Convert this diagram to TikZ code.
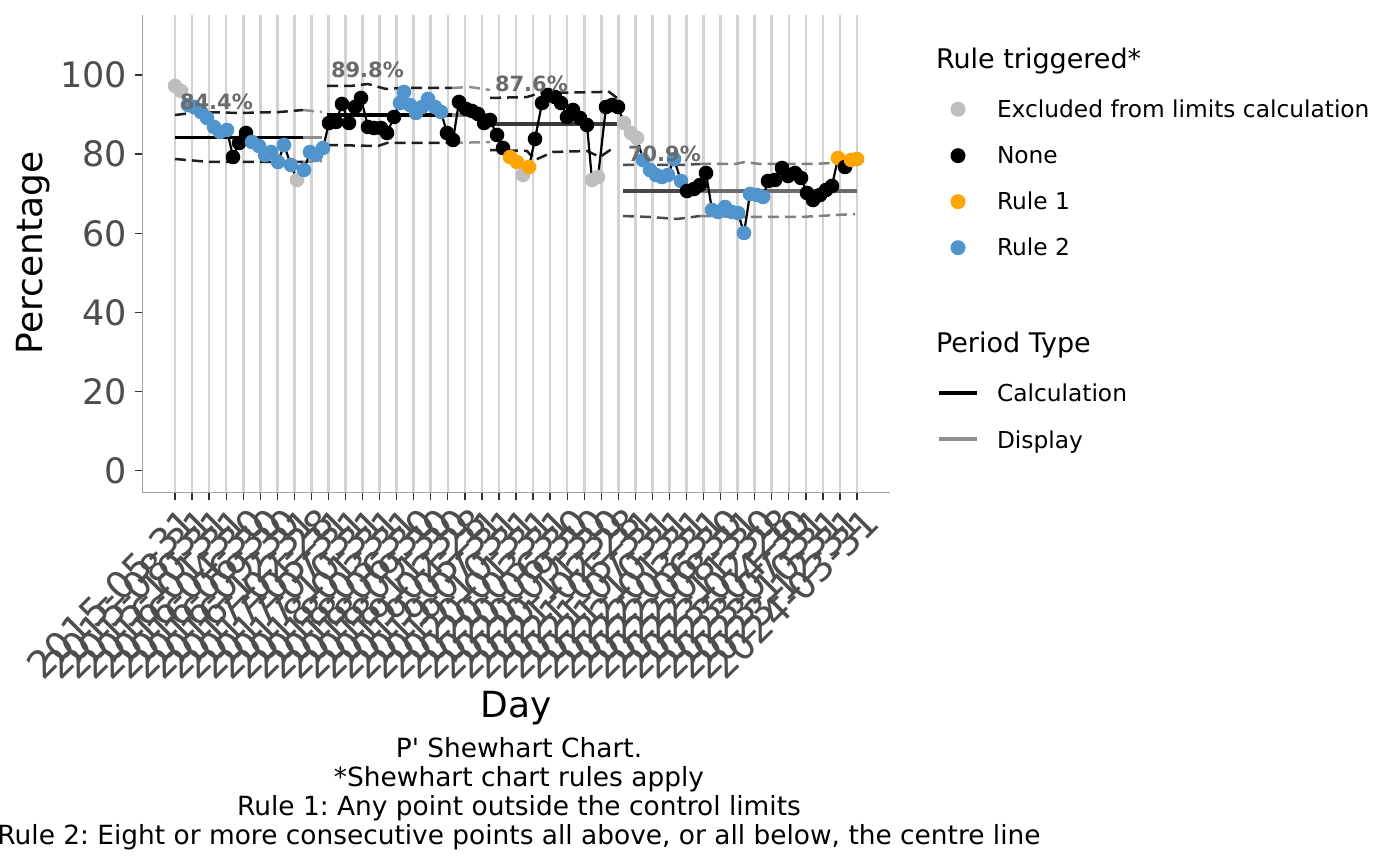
\documentclass[tikz,border=0pt]{standalone}
\usepackage{fontspec}
\setmainfont{DejaVu Sans}
\frenchspacing
\definecolor{ptgrey}{HTML}{BEBEBE}
\definecolor{ptorange}{HTML}{FFA500}
\definecolor{ptblue}{HTML}{4F94CD}
\definecolor{axisgrey}{HTML}{A3A3A3}
\definecolor{gridgrey}{HTML}{D3D3D3}
\definecolor{ticktext}{HTML}{4D4D4D}
\definecolor{labgrey}{HTML}{6B6B6B}
\definecolor{dispgrey}{HTML}{8E8E8E}
\def\datapts{175/86/ptgrey,181/91/ptgrey,188/105/ptblue,194/107/ptblue,201/112/ptblue,207/118/ptblue,214/127/ptblue,220/132/ptblue,227/130/ptblue,233/157/black,239/143/black,246/133/black,252/142/ptblue,259/146/ptblue,265/155/ptblue,271/152/ptblue,278/162/ptblue,284/145/ptblue,291/165/ptblue,297/180/ptgrey,304/170/ptblue,310/152/ptblue,316/155/ptblue,323/148/ptblue,329/123/black,336/122/black,342/104/black,349/123/black,355/107/black,361/98/black,368/127/black,374/128/black,381/128/black,387/133/black,394/117/black,400/103/ptblue,404/92/ptblue,410/105/ptblue,416/113/ptblue,422/107/ptblue,428/99/ptblue,435/107/ptblue,441/112/ptblue,447/133/black,453/140/black,459/102/black,466/109/black,472/111/black,478/114/black,484/123/black,490/120/black,497/135/black,503/148/black,510/157/ptorange,517/162/ptorange,523/175/ptgrey,529/167/ptorange,535/139/black,542/103/black,548/95/black,555/97/black,561/103/black,567/117/black,573/110/black,580/118/black,587/125/black,592/180/ptgrey,598/177/ptgrey,606/107/black,612/105/black,618/107/black,624/123/ptgrey,631/133/ptgrey,637/138/ptgrey,643/160/ptblue,650/170/ptblue,656/175/ptblue,662/177/ptblue,668/175/ptblue,674/159/ptblue,681/181/ptblue,687/191/black,694/189/black,700/185/black,706/173/black,712/210/ptblue,718/212/ptblue,725/207/ptblue,732/212/ptblue,738/213/ptblue,744/233/ptblue,750/194/ptblue,757/195/ptblue,763/197/ptblue,768/181/black,775/180/black,782/168/black,788/176/black,795/173/black,801/178/black,807/193/black,813/200/black,820/195/black,826/190/black,832/186/black,838/158/ptorange,845/167/black,851/160/ptorange,857/159/ptorange}
\def\datelist{2015-05-31,2015-08-31,2015-10-31,2016-01-31,2016-04-30,2016-06-30,2016-09-30,2016-12-31,2017-02-28,2017-05-31,2017-07-31,2017-10-31,2018-01-31,2018-03-31,2018-06-30,2018-09-30,2018-11-30,2019-02-28,2019-05-31,2019-07-31,2019-10-31,2020-01-31,2020-03-31,2020-06-30,2020-09-30,2020-11-30,2021-02-28,2021-05-31,2021-07-31,2021-10-31,2022-01-31,2022-03-31,2022-06-30,2022-08-31,2022-11-30,2023-02-28,2023-04-30,2023-07-31,2023-10-31,2023-12-31,2024-03-31}
\begin{document}
\begin{tikzpicture}[x=1pt,y=-1pt,
  every node/.style={inner sep=0pt, outer sep=0pt},
  gridln/.style={draw=gridgrey, line width=2.6pt},
  axisln/.style={draw=axisgrey, line width=1.6pt},
  tickmk/.style={draw=black!80, line width=1.3pt},
  ticklab/.style={text=ticktext, font=\fontsize{35}{40}\selectfont},
  xticklab/.style={text=ticktext, font=\fontsize{38}{44}\selectfont},
  axtitle/.style={font=\fontsize{36}{42}\selectfont},
  calcc/.style={draw=black, line width=3.8pt},
  calccb/.style={draw=black!78, line width=3.8pt},
  dispc/.style={draw=dispgrey, line width=3.8pt},
  calcl/.style={draw=black!88, line width=2.5pt, dash pattern=on 11pt off 6pt},
  displ/.style={draw=dispgrey, line width=2.5pt, dash pattern=on 11pt off 6pt},
  dataline/.style={draw=black, line width=2.2pt, line cap=round},
  pctlab/.style={text=labgrey, font=\fontsize{21}{24}\selectfont\bfseries, anchor=base west},
  legtitle/.style={font=\fontsize{27}{32}\selectfont, anchor=base west},
  leglab/.style={font=\fontsize{23.3}{28}\selectfont, anchor=base west},
  caplab/.style={font=\fontsize{26.4}{30}\selectfont, anchor=base},
]
\useasboundingbox[fill=white] (0,0) rectangle (1400,866);
% grid
\foreach \k in {0,...,40} \draw[gridln] ({175+17.05*\k},15) -- ({175+17.05*\k},492);
% axes
\draw[axisln] (142.5,15) -- (142.5,492.5) -- (890,492.5);
\foreach \v in {0,20,...,100} {
  \draw[tickmk] (135,{470.7-3.957*\v}) -- (142,{470.7-3.957*\v});
  \node[ticklab, anchor=east] (yl\v) at (127,{470.7-3.957*\v}) {\v};
}
\foreach [count=\k from 0] \d in \datelist {
  \draw[tickmk] ({175+17.05*\k},493) -- ({175+17.05*\k},500);
  \node[xticklab, rotate=45, anchor=north east] (xl\k) at ({180+17.05*\k},505) {\d};
}
\node[axtitle, anchor=base] (xtitle) at (516,717) {Day};
\node[axtitle, rotate=90, anchor=base] (ytitle) at (42,253) {Percentage};
% period 1
\draw[calcc] (175,137.5) -- (303,137.5);
\draw[dispc] (303,137.5) -- (322,137.5);
\draw[calcl] (175,115) -- (200,112) -- (240,113) -- (280,112) -- (303,110);
\draw[displ] (303,110) -- (322,112);
\draw[calcl] (175,159) -- (210,162) -- (260,162) -- (303,162);
\draw[displ] (303,162) -- (322,161);
% period 2
\draw[calcc] (327,115.4) -- (452,115.4);
\draw[dispc] (452,115.4) -- (490,115.4);
\draw[calcl] (327,86) -- (350,86) -- (368,84) -- (386,89) -- (400,88) -- (452,88);
\draw[displ] (452,88) -- (470,87) -- (490,90);
\draw[calcl] (327,145) -- (378,146) -- (387,143) -- (452,143);
\draw[displ] (452,143) -- (490,142);
% period 3
\draw[calccb] (490,124) -- (622,124);
\draw[calcl] (490,98) -- (527,97) -- (540,93) -- (600,92) -- (608,91) -- (617,98);
\draw[calcl] (490,150) -- (527,151) -- (535,160) -- (553,152) -- (587,151) -- (600,157) -- (613,148);
% period 4
\draw[draw=black!72, line width=3.8pt] (623,190.7) -- (700,190.7);
\draw[draw=black!58, line width=3.8pt] (700,190.7) -- (857,190.7);
\draw[calcl, draw=black!70] (623,165) -- (680,165) -- (700,164);
\draw[displ, draw=black!50] (700,164) -- (735,164) -- (745,162) -- (760,164) -- (813,164) -- (850,162) -- (857,163);
\draw[calcl, draw=black!70] (623,216) -- (650,217) -- (677,219) -- (700,216);
\draw[displ, draw=black!50] (700,216) -- (750,217) -- (800,217) -- (855,214);
% data line
\foreach [count=\i from 0, remember=\i as \j (initially 0)] \x/\y/\c in \datapts {
  \coordinate (p\i) at (\x,\y);
  \draw[dataline] (p\j) -- (p\i);
}
\foreach [count=\i from 0] \x/\y/\c in \datapts {
  \fill[\c] (p\i) circle[radius=7.3pt];
}
% period labels
\node[pctlab] (lab1) at (180,110) {84.4\%};
\node[pctlab] (lab2) at (331,78) {89.8\%};
\node[pctlab] (lab3) at (495,92) {87.6\%};
\node[pctlab] (lab4) at (628,162) {70.9\%};
% legend
\node[legtitle] (lt1) at (936,69) {Rule triggered*};
\fill[ptgrey] (958,109.3) circle[radius=7.5pt];
\fill[black] (958,155.7) circle[radius=7.5pt];
\fill[ptorange] (958,201.7) circle[radius=7.5pt];
\fill[ptblue] (958,247.7) circle[radius=7.5pt];
\node[leglab] (lg1) at (997,118) {Excluded from limits calculation};
\node[leglab] (lg2) at (997,164) {None};
\node[leglab] (lg3) at (997,210) {Rule 1};
\node[leglab] (lg4) at (997,256) {Rule 2};
\node[legtitle] (lt2) at (936,353) {Period Type};
\draw[black, line width=4pt] (939,393.3) -- (977,393.3);
\draw[dispgrey, line width=4pt] (939,439.3) -- (977,439.3);
\node[leglab] (lg5) at (997,402) {Calculation};
\node[leglab] (lg6) at (997,448) {Display};
% caption
\node[caplab] (c1) at (519,757) {P\textquotesingle{} Shewhart Chart.};
\node[caplab] (c2) at (519,786) {*Shewhart chart rules apply};
\node[caplab] (c3) at (519,815) {Rule 1: Any point outside the control limits};
\node[caplab] (c4) at (519,844) {Rule 2: Eight or more consecutive points all above, or all below, the centre line};
\end{tikzpicture}
\end{document}
